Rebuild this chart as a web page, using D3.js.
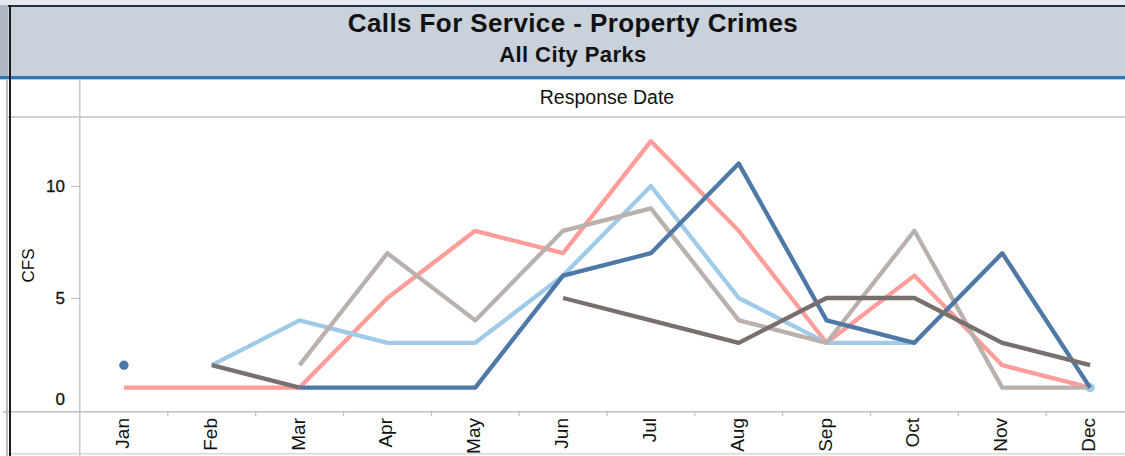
<!DOCTYPE html>
<html><head><meta charset="utf-8">
<script src="https://cdn.jsdelivr.net/npm/d3@7"></script>
<style>body{margin:0;background:#fff;overflow:hidden}svg{display:block;font-family:"Liberation Sans",Arial,sans-serif}</style>
</head><body><svg id="c" width="1125" height="456"></svg>
<script>
const months = ["Jan","Feb","Mar","Apr","May","Jun","Jul","Aug","Sep","Oct","Nov","Dec"];
const yTicks = [0,5,10];
const seriesNames = ["Series A","Series B","Series C","Series D","Series E"];
const seriesColors = ["#ff9d9a","#a0cbe8","#bab0ac","#4e79a7","#79706e"];
const valsA = [1,1,1,5,8,7,12,8,3,6,2,1];
const valsB = [null,2,4,3,3,6,10,5,3,3,null,1];
const valsC = [null,null,2,7,4,8,9,4,3,8,1,1];
const valsD = [2,null,1,1,1,6,7,11,4,3,7,1];
const valsE = [null,2,1,null,null,5,4,3,5,5,3,2];
const allVals = [valsA,valsB,valsC,valsD,valsE];
const title = "Calls For Service - Property Crimes";
const subtitle = "All City Parks";
const xTitle = "Response Date";
const yTitle = "CFS";

const svg = d3.select("#c");
const plotL = 80, plotR = 1134, plotT = 117, plotB = 410;
const x = d3.scaleBand().domain(months).range([plotL, plotR]);
const y = d3.scaleLinear().domain([0, 13.08]).range([plotB, plotT]);
const cx = m => x(m) + x.bandwidth()/2;

// header
svg.append("rect").attr("x",0).attr("y",0).attr("width",1125).attr("height",5).attr("fill","#e6e9ee");
svg.append("rect").attr("x",8).attr("y",7).attr("width",1125).attr("height",69).attr("fill","#c9d1db");
svg.append("rect").attr("x",8).attr("y",5).attr("width",1125).attr("height",2).attr("fill","#1f3346");
svg.append("rect").attr("x",0).attr("y",5).attr("width",8).attr("height",72).attr("fill","#b0b7c0");
svg.append("rect").attr("x",0).attr("y",76).attr("width",1125).attr("height",3).attr("fill","#2f74b3");
svg.append("rect").attr("x",0).attr("y",79).attr("width",1125).attr("height",1).attr("fill","#a9cbe8");
svg.append("text").attr("x",573).attr("y",32).attr("text-anchor","middle").attr("font-size",26).attr("letter-spacing",0.4).attr("font-weight","bold").attr("fill","#111").text(title);
svg.append("text").attr("x",573).attr("y",62).attr("text-anchor","middle").attr("font-size",22).attr("letter-spacing",0.4).attr("font-weight","bold").attr("fill","#111").text(subtitle);

// frame lines
svg.append("rect").attr("x",8).attr("y",116).attr("width",1125).attr("height",2).attr("fill","#d0d0d0");
svg.append("rect").attr("x",79).attr("y",80).attr("width",1.5).attr("height",376).attr("fill","#c8c8c8");
svg.append("rect").attr("x",3).attr("y",411).attr("width",1125).attr("height",1.5).attr("fill","#c0c0c0");
svg.append("rect").attr("x",8).attr("y",453).attr("width",1125).attr("height",1.5).attr("fill","#d8d8d8");
svg.append("rect").attr("x",6).attr("y",80).attr("width",2).attr("height",376).attr("fill","#bbb");
svg.append("rect").attr("x",9).attr("y",5).attr("width",2).attr("height",451).attr("fill","#1a1a1a");

svg.append("text").attr("x",607).attr("y",104).attr("text-anchor","middle").attr("font-size",19.5).attr("fill","#111").text(xTitle);

// y axis
const yAxis = d3.axisLeft(y).tickValues(yTicks.filter(v=>v>0)).tickSize(9).tickPadding(6).tickFormat(d3.format("d"));
const yg = svg.append("g").attr("transform",`translate(${plotL},0)`).call(yAxis);
yg.select(".domain").remove();
yg.selectAll(".tick line").attr("stroke","#c0c0c0").attr("stroke-width",1.2);
yg.selectAll(".tick text").attr("font-size",17).attr("fill","#111").attr("stroke","#111").attr("stroke-width",0.3).attr("font-family","Liberation Sans, Arial, sans-serif");
svg.append("text").attr("x",plotL-15).attr("y",y(0)-5).attr("text-anchor","end").attr("font-size",17).attr("fill","#111").attr("stroke","#111").attr("stroke-width",0.3).text(d3.format("d")(yTicks[0]));
svg.append("text").attr("transform",`translate(34,${(plotT+plotB)/2 + 2}) rotate(-90)`).attr("text-anchor","middle").attr("font-size",17).attr("fill","#111").text(yTitle);

// x axis ticks between months + labels
const xg = svg.append("g");
xg.selectAll("line").data(months.slice(1)).join("line")
  .attr("x1",m=>x(m)).attr("x2",m=>x(m)).attr("y1",411).attr("y2",416)
  .attr("stroke","#c0c0c0").attr("stroke-width",1.2);
xg.selectAll("text").data(months).join("text")
  .attr("transform",m=>`translate(${cx(m)+5},418) rotate(-90)`)
  .attr("text-anchor","end").attr("font-size",19).attr("fill","#111").text(m=>m);

// series
const line = d3.line().defined(d=>d.v!=null).x(d=>cx(d.m)).y(d=>y(d.v));
allVals.forEach((vals,i)=>{
  const data = months.map((mm,j)=>({m: mm, v: vals[j]}));
  svg.append("path").datum(data).attr("d",line).attr("fill","none")
    .attr("stroke",seriesColors[i]).attr("stroke-width",4.3).attr("stroke-linejoin","round").attr("stroke-linecap","butt")
    .attr("data-name",seriesNames[i]);
  data.forEach((d,j)=>{
    if(d.v==null) return;
    const prev = j>0 ? data[j-1].v : null, next = j<data.length-1 ? data[j+1].v : null;
    if(prev==null && next==null){
      svg.append("circle").attr("cx",cx(d.m)).attr("cy",y(d.v)).attr("r",4.7).attr("fill",seriesColors[i]);
    }
  });
});
</script></body></html>
